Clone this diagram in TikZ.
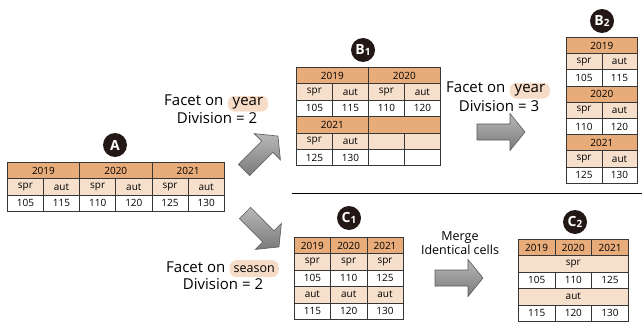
\documentclass[tikz,border=0pt]{standalone}
\usepackage{fontspec}
\setmainfont{Open Sans}
\usepackage{xcolor}
\usepackage{tikz}
\usetikzlibrary{positioning}

\definecolor{hdrc}{RGB}{232,172,122}
\definecolor{subc}{RGB}{246,224,204}
\definecolor{pillc}{RGB}{246,220,198}
\definecolor{tline}{RGB}{55,55,55}
\definecolor{badgec}{RGB}{35,24,21}

\tikzset{
  cell/.style={draw=tline, line width=0.6pt, minimum height=16.4pt, minimum width=36.2pt,
    inner sep=0pt, anchor=north west, font=\fontsize{10}{10}\selectfont},
  hdr/.style={cell, fill=hdrc},
  sub/.style={cell, fill=subc},
  val/.style={cell, fill=white},
  badge/.style={circle, fill=badgec, text=white, minimum size=24pt, inner sep=0pt,
    font=\bfseries\fontsize{14}{14}\selectfont},
  lbl/.style={font=\fontsize{15}{16}\selectfont, inner sep=0pt},
  pill/.style={fill=pillc, rounded corners=7pt, inner xsep=5pt, inner ysep=2pt,
    font=\fontsize{15}{16}\selectfont},
  arrowfill/.style={top color=black!28, bottom color=black!52, draw=black!65, line width=0.6pt},
  bigarrow/.pic={\draw[arrowfill] (0,-8) -- (33,-8) -- (33,-18.5) -- (48,0) -- (33,18.5) -- (33,8) -- (0,8) -- cycle;}
}
\newcommand{\sub}[1]{\raisebox{-0.6pt}{\fontsize{10}{10}\selectfont #1}}

\begin{document}
\begin{tikzpicture}[x=1pt, y=-1pt]
\useasboundingbox (0,0) rectangle (642,326);

% table A
\node[badge] (bA) at (115,145) {A};
\foreach \yr [count=\i from 0] in {2019,2020,2021}
  \node[hdr, minimum width=72.3pt] (A-h\i) at ({7+72.3*\i},162) {\yr};
\foreach \s/\v [count=\i from 0] in {spr/105,aut/115,spr/110,aut/120,spr/125,aut/130} {
  \node[sub] (A-s\i) at ({7+36.15*\i},178.3) {\s};
  \node[val] (A-v\i) at ({7+36.15*\i},194.6) {\v};
}

% facet on year, division 2
\node[lbl, anchor=base west] (fy1) at (164,106) {Facet on};
\node[pill, right=4pt of fy1.base east, anchor=base west] (py1) {year};
\node[lbl] (dy1) at (217,118) {Division = 2};
\pic[rotate=45] at (244,170) {bigarrow};

% table B1
\node[badge] (bB1) at (363,50) {B\sub{1}};
\foreach \yr [count=\i from 0] in {2019,2020}
  \node[hdr, minimum width=72pt] (B1-h\i) at ({296+72*\i},67) {\yr};
\node[hdr, minimum width=72pt] (B1-h2) at (296,116.2) {2021};
\node[hdr, minimum width=72pt] (B1-h3) at (368,116.2) {};
\foreach \s/\v [count=\i from 0] in {spr/105,aut/115,spr/110,aut/120} {
  \node[sub] (B1-s\i) at ({296+36*\i},83.4) {\s};
  \node[val] (B1-v\i) at ({296+36*\i},99.8) {\v};
}
\foreach \s/\v [count=\i from 0] in {spr/125,aut/130,/,/} {
  \node[sub] (B1-t\i) at ({296+36*\i},132.6) {\s};
  \node[val] (B1-w\i) at ({296+36*\i},149) {\v};
}

% facet on year, division 3
\node[lbl, anchor=base west] (fy2) at (446,93) {Facet on};
\node[pill, right=4pt of fy2.base east, anchor=base west] (py2) {year};
\node[lbl] (dy2) at (499,106) {Division = 3};
\pic at (477,132) {bigarrow};

% table B2
\node[badge] (bB2) at (602,21) {B\sub{2}};
\foreach \yr/\a/\b [count=\k from 0] in {2019/105/115,2020/110/120,2021/125/130} {
  \node[hdr, minimum width=71pt] (B2-h\k) at (566,{37+48.6*\k}) {\yr};
  \node[sub, minimum width=35.5pt] (B2-s\k) at (566,{53.2+48.6*\k}) {spr};
  \node[sub, minimum width=35.5pt] (B2-t\k) at (601.5,{53.2+48.6*\k}) {aut};
  \node[val, minimum width=35.5pt] (B2-v\k) at (566,{69.4+48.6*\k}) {\a};
  \node[val, minimum width=35.5pt] (B2-w\k) at (601.5,{69.4+48.6*\k}) {\b};
}

\draw[line width=0.9pt] (292,193) -- (642,193);

% facet on season
\pic[rotate=-45] at (245,213) {bigarrow};
\node[lbl, anchor=base west] (fs) at (166,272) {Facet on};
\node[pill, right=4pt of fs.base east, anchor=base west, font=\fontsize{12.5}{14}\selectfont,
  inner xsep=4pt, minimum height=17pt] (ps) {season};
\node[lbl] (ds) at (223,284) {Division = 2};

% table C1
\node[badge] (bC1) at (349,218) {C\sub{1}};
\foreach \yr/\a/\b [count=\i from 0] in {2019/105/115,2020/110/120,2021/125/130} {
  \node[hdr] (C1-h\i) at ({294+36.3*\i},237) {\yr};
  \node[sub] (C1-s\i) at ({294+36.3*\i},253.4) {spr};
  \node[val] (C1-v\i) at ({294+36.3*\i},269.8) {\a};
  \node[sub] (C1-t\i) at ({294+36.3*\i},286.2) {aut};
  \node[val] (C1-w\i) at ({294+36.3*\i},302.6) {\b};
}

% merge
\node[font=\fontsize{12.5}{14}\selectfont, align=center, inner sep=0pt] (mg) at (460,243) {Merge\\Identical cells};
\pic at (435,278) {bigarrow};

% table C2
\node[badge] (bC2) at (575,222) {C\sub{2}};
\node[sub, minimum width=110pt] (C2-s) at (518,255.4) {spr};
\node[sub, minimum width=110pt] (C2-t) at (518,288.2) {aut};
\foreach \yr/\a/\b [count=\i from 0] in {2019/105/115,2020/110/120,2021/125/130} {
  \node[hdr, minimum width=36.7pt] (C2-h\i) at ({518+36.7*\i},239) {\yr};
  \node[val, minimum width=36.7pt] (C2-v\i) at ({518+36.7*\i},271.8) {\a};
  \node[val, minimum width=36.7pt] (C2-w\i) at ({518+36.7*\i},304.6) {\b};
}
\end{tikzpicture}
\end{document}
